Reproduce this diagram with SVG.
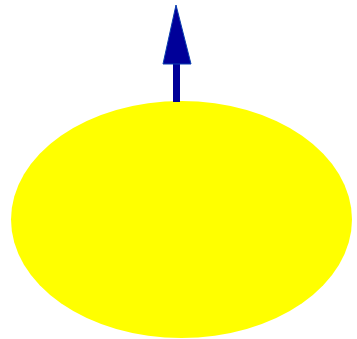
<svg xmlns="http://www.w3.org/2000/svg" width="357" height="339" viewBox="0 0 357 339">
<style>
.node{fill:#ffff00;stroke:none}
.conn{stroke:#000099;stroke-width:7;fill:none}
.head{fill:#000099;stroke:#0a3fb0;stroke-width:1}
</style>
<rect width="357" height="339" fill="#ffffff"/>
<g id="ellipse1"><ellipse class="node" cx="181.5" cy="219.5" rx="170.5" ry="118.5"/></g>
<g id="connectors">
<line class="conn" x1="176.5" y1="102" x2="176.5" y2="62"/>
<polygon class="head" points="176,5 191,64 163,64"/>
</g>
</svg>
